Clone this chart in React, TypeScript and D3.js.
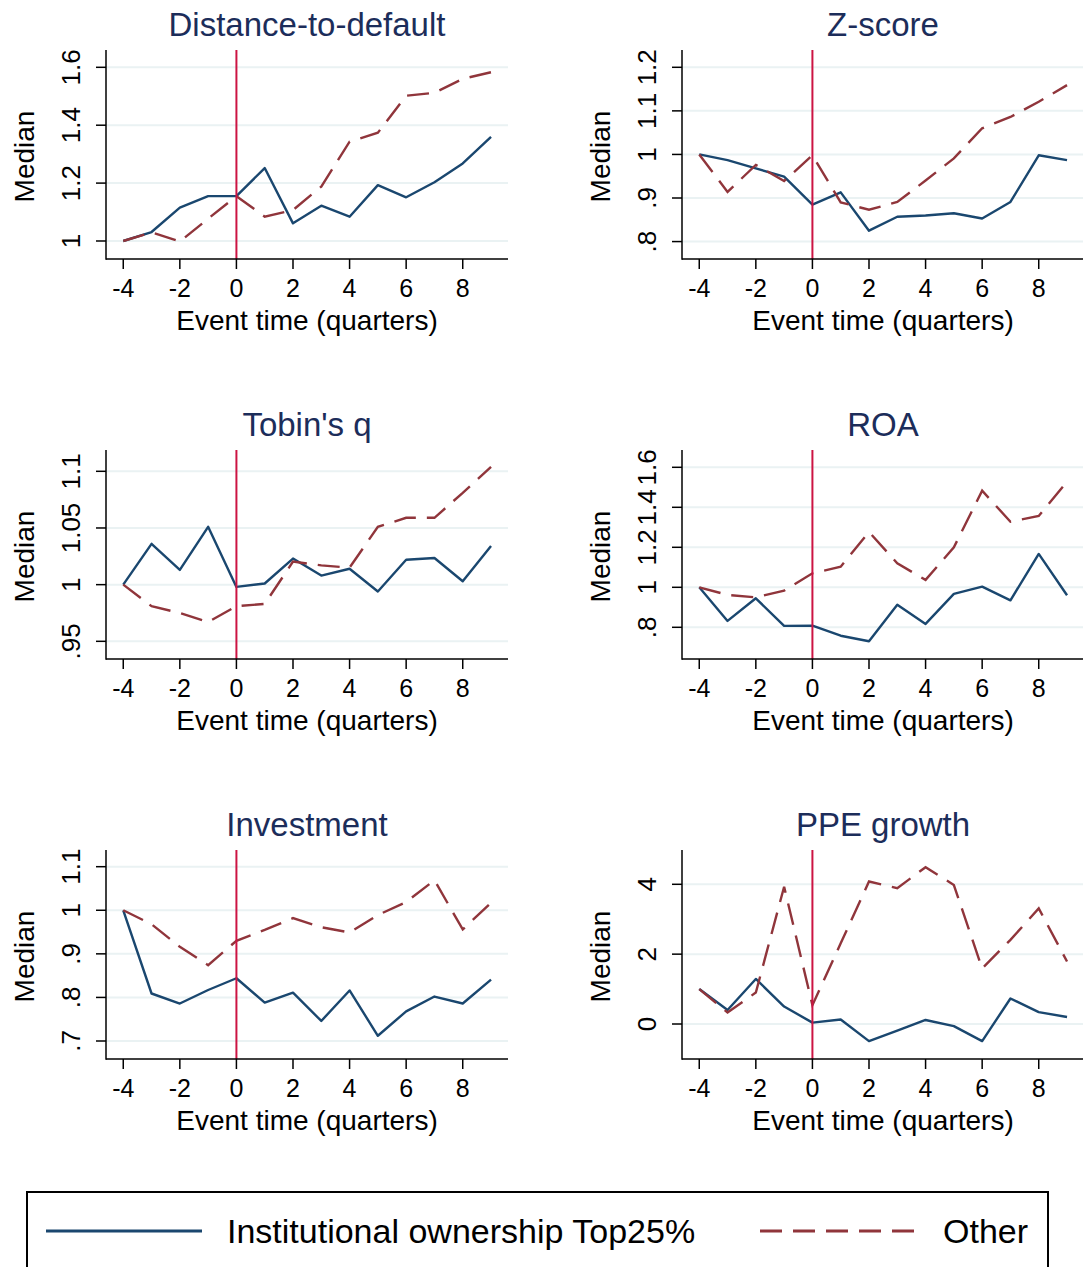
import * as d3 from "d3";
import { useEffect } from "react";

// event time axis
const quarters = [-4, -3, -2, -1, 0, 1, 2, 3, 4, 5, 6, 7, 8, 9];
const xTicks = [-4, -2, 0, 2, 4, 6, 8];

// medians, normalised to 1 at t = -4
const dtdTop = [1.0, 1.031, 1.115, 1.155, 1.155, 1.252, 1.061, 1.122, 1.084, 1.193, 1.151, 1.203, 1.268, 1.36];
const dtdOther = [1.0, 1.03, 0.998, 1.077, 1.155, 1.084, 1.107, 1.188, 1.343, 1.374, 1.502, 1.512, 1.56, 1.583];

const zTop = [1.0, 0.987, 0.968, 0.949, 0.885, 0.913, 0.825, 0.857, 0.86, 0.865, 0.853, 0.891, 0.998, 0.987];
const zOther = [1.0, 0.914, 0.976, 0.939, 0.998, 0.89, 0.873, 0.891, 0.94, 0.991, 1.06, 1.086, 1.121, 1.159];

const qTop = [1.0, 1.036, 1.013, 1.051, 0.998, 1.001, 1.023, 1.008, 1.014, 0.994, 1.022, 1.0235, 1.003, 1.034];
const qOther = [1.0, 0.981, 0.975, 0.967, 0.981, 0.983, 1.0203, 1.017, 1.015, 1.051, 1.059, 1.059, 1.081, 1.104];

const roaTop = [1.0, 0.832, 0.945, 0.807, 0.808, 0.758, 0.73, 0.913, 0.817, 0.967, 1.003, 0.935, 1.167, 0.96];
const roaOther = [1.0, 0.962, 0.95, 0.983, 1.07, 1.103, 1.277, 1.12, 1.037, 1.2, 1.483, 1.328, 1.357, 1.528];

const invTop = [1.0, 0.809, 0.786, 0.817, 0.844, 0.788, 0.811, 0.746, 0.816, 0.712, 0.768, 0.802, 0.786, 0.841];
const invOther = [1.0, 0.968, 0.916, 0.874, 0.93, 0.955, 0.982, 0.961, 0.949, 0.989, 1.019, 1.069, 0.956, 1.017];

const ppeTop = [1.0, 0.4, 1.29, 0.5, 0.04, 0.13, -0.49, -0.19, 0.115, -0.06, -0.49, 0.73, 0.34, 0.2];
const ppeOther = [1.0, 0.33, 0.9, 3.93, 0.54, 2.31, 4.08, 3.89, 4.49, 3.98, 1.59, 2.41, 3.31, 1.79];

const titles = ["Distance-to-default", "Z-score", "Tobin's q", "ROA", "Investment", "PPE growth"];
const seriesNames = ["Institutional ownership Top25%", "Other"];

const panels = [
  { title: titles[0], top: dtdTop, other: dtdOther, yTicks: [1, 1.2, 1.4, 1.6], yDomain: [0.9378, 1.6598] },
  { title: titles[1], top: zTop, other: zOther, yTicks: [0.8, 0.9, 1, 1.1, 1.2], yDomain: [0.76, 1.2397] },
  { title: titles[2], top: qTop, other: qOther, yTicks: [0.95, 1, 1.05, 1.1], yDomain: [0.9344, 1.1188] },
  { title: titles[3], top: roaTop, other: roaOther, yTicks: [0.8, 1, 1.2, 1.4, 1.6], yDomain: [0.6415, 1.6865] },
  { title: titles[4], top: invTop, other: invOther, yTicks: [0.7, 0.8, 0.9, 1, 1.1], yDomain: [0.6587, 1.1383] },
  { title: titles[5], top: ppeTop, other: ppeOther, yTicks: [0, 2, 4], yDomain: [-1.002, 4.982] },
];

const W = 1083;
const H = 1267;
const colX = [106, 682];
const rowY = [50, 450, 850];
const plotW = 402;
const plotH = 209;

const FONT = "'Liberation Sans', Arial, sans-serif";
const BLUE = "#1a476f";
const RED = "#90353b";
const VLINE = "#cc1443";
const GRID = "#eaf2f3";
const TITLE = "#1c2d5a";
const DASH = "22 11";

// stata style: ".8" instead of "0.8"
const fmt = (v: number) => String(v).replace(/^0\./, ".").replace(/^-0\./, "-.");

function Panel({ spec, x0, y0 }: any) {
  const xs = d3.scaleLinear().domain([-4.61, 9.6]).range([x0, x0 + plotW]);
  const ys = d3.scaleLinear().domain(spec.yDomain).range([y0 + plotH, y0]);
  const line = d3
    .line<number>()
    .x((_, i) => xs(quarters[i]))
    .y((d) => ys(d));
  const bottom = y0 + plotH;

  return (
    <g>
      {/* grid */}
      {spec.yTicks.map((t: number) => (
        <line key={"g" + t} x1={x0} x2={x0 + plotW} y1={ys(t)} y2={ys(t)} stroke={GRID} strokeWidth={2} />
      ))}

      {/* series */}
      <path d={line(spec.top) || ""} fill="none" stroke={BLUE} strokeWidth={2.4} strokeLinejoin="round" />
      <path d={line(spec.other) || ""} fill="none" stroke={RED} strokeWidth={2.4} strokeDasharray={DASH} />

      {/* event line */}
      <line x1={xs(0)} x2={xs(0)} y1={y0} y2={bottom} stroke={VLINE} strokeWidth={2} />

      {/* axes */}
      <line x1={x0} x2={x0} y1={y0} y2={bottom + 0.75} stroke="#000" strokeWidth={1.5} />
      <line x1={x0} x2={x0 + plotW} y1={bottom} y2={bottom} stroke="#000" strokeWidth={1.5} />

      {spec.yTicks.map((t: number) => (
        <g key={"y" + t}>
          <line x1={x0 - 10} x2={x0} y1={ys(t)} y2={ys(t)} stroke="#000" strokeWidth={1.5} />
          <text
            transform={`translate(${x0 - 26},${ys(t)}) rotate(-90)`}
            textAnchor="middle"
            fontSize={26}
            fontFamily={FONT}
          >
            {fmt(t)}
          </text>
        </g>
      ))}

      {xTicks.map((t) => (
        <g key={"x" + t}>
          <line x1={xs(t)} x2={xs(t)} y1={bottom} y2={bottom + 10} stroke="#000" strokeWidth={1.5} />
          <text x={xs(t)} y={bottom + 38} textAnchor="middle" fontSize={25} fontFamily={FONT}>
            {t}
          </text>
        </g>
      ))}

      <text x={x0 + plotW / 2} y={bottom + 71} textAnchor="middle" fontSize={28} fontFamily={FONT}>
        Event time (quarters)
      </text>
      <text
        transform={`translate(${x0 - 72},${y0 + plotH / 2 + 2}) rotate(-90)`}
        textAnchor="middle"
        fontSize={28}
        fontFamily={FONT}
      >
        Median
      </text>
      <text x={x0 + plotW / 2} y={y0 - 14} textAnchor="middle" fontSize={33} fontFamily={FONT} fill={TITLE}>
        {spec.title}
      </text>
    </g>
  );
}

export default function App() {
  useEffect(() => {
    document.body.style.margin = "0";
    document.body.style.overflow = "hidden";
  }, []);

  const legendY = 1231;

  return (
    <svg
      width={W}
      height={H}
      style={{ position: "absolute", left: 0, top: 0, background: "#fff" }}
    >
      <rect x={0} y={0} width={W} height={H} fill="#fff" />
      {panels.map((p, i) => (
        <Panel key={p.title} spec={p} x0={colX[i % 2]} y0={rowY[Math.floor(i / 2)]} />
      ))}

      {/* legend */}
      <rect x={27} y={1192} width={1021} height={120} fill="none" stroke="#000" strokeWidth={2} />
      <line x1={46} x2={202} y1={legendY} y2={legendY} stroke={BLUE} strokeWidth={3} />
      <text x={227} y={legendY + 12} fontSize={34} fontFamily={FONT}>
        {seriesNames[0]}
      </text>
      <line x1={760} x2={918} y1={legendY} y2={legendY} stroke={RED} strokeWidth={3} strokeDasharray={DASH} />
      <text x={943} y={legendY + 12} fontSize={34} fontFamily={FONT}>
        {seriesNames[1]}
      </text>
    </svg>
  );
}
